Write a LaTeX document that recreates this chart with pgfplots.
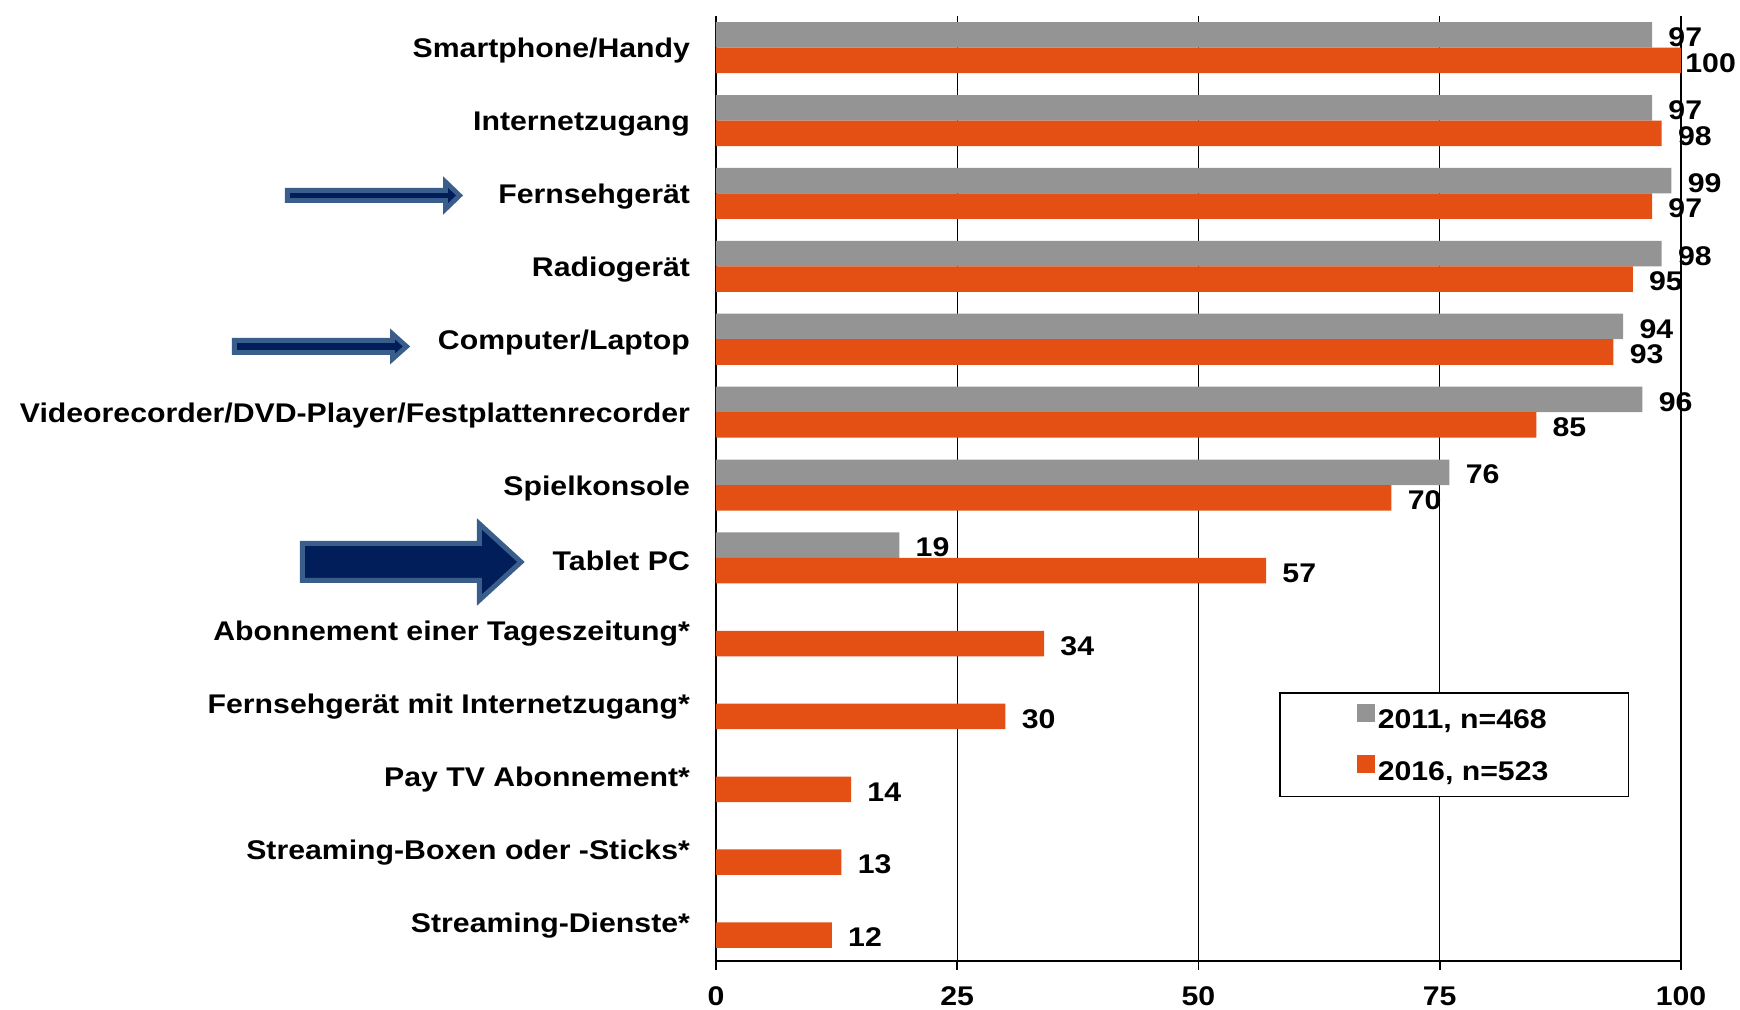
\documentclass[border=0pt]{standalone}
\usepackage{fontspec}
\setmainfont{Liberation Sans}[FakeStretch=1.12]
\usepackage{pgfplots}
\pgfplotsset{compat=1.18}
\usepackage{pgfplotstable}

\definecolor{g11}{RGB}{148,148,148}
\definecolor{o16}{RGB}{228,80,20}
\definecolor{arrB}{RGB}{58,94,140}
\definecolor{arrF}{RGB}{2,30,90}

\newcommand\lbl{\fontsize{13.5}{16}\selectfont\bfseries}

\pgfplotstableread{
y v dx
12 97 8
11 97 8
10 99 8
9 98 8
8 94 8
7 96 8
6 76 8
5 19 8
}\grayt

\pgfplotstableread{
y v dx
12 100 2
11 98 8
10 97 8
9 95 8
8 93 8
7 85 8
6 70 8
5 57 8
4 34 8
3 30 8
2 14 8
1 13 8
0 12 8
}\oranget

\begin{document}
\begin{tikzpicture}
\begin{axis}[
  scale only axis, width=482.5pt, height=472.5pt,
  xmin=0, xmax=100, ymin=-0.53, ymax=12.435,
  xbar, bar width=0.35,
  axis x line=bottom, axis y line=left,
  axis line style={-, black},
  x axis line style={line width=1pt},
  y axis line style={line width=0.8pt},
  xtick={0,25,50,75,100},
  xmajorgrids, grid style={black, line width=0.6pt},
  tick align=outside, major tick length=4.5pt,
  xtick style={black, line width=0.8pt},
  ytick={0,...,12},
  yticklabels={Streaming-Dienste*,Streaming-Boxen oder -Sticks*,Pay TV Abonnement*,Fernsehgerät mit Internetzugang*,Abonnement einer Tageszeitung*,Tablet PC,Spielkonsole,Videorecorder/DVD-Player/Festplattenrecorder,Computer/Laptop,Radiogerät,Fernsehgerät,Internetzugang,Smartphone/Handy},
  ytick style={draw=none},
  ticklabel style={font=\lbl},
  /pgf/number format/assume math mode=true,
  xticklabel style={yshift=-4.8pt},
  yticklabel style={xshift=-5pt, yshift=-1.5pt},
  nodes near coords,
  nodes near coords style={font=\lbl, anchor=west, inner xsep=0pt, xshift=\dx pt, yshift=-1.2pt},
  legend style={at={(0.5834,0.2847)}, anchor=north west, draw=black, line width=0.8pt,
    fill=white, inner xsep=38.5pt, inner ysep=5.6pt, font=\lbl, row sep=10.9pt,
    nodes={inner ysep=1pt, inner xsep=1.5pt}},
  legend cell align=left,
  legend image code/.code={\fill[#1,draw=none] (0pt,-0.6pt) rectangle (9pt,8.4pt);},
]
\addplot[fill=g11, draw=none, bar shift=0.175,
  visualization depends on={\thisrow{dx} \as \dx}]
  table[x=v, y=y] {\grayt};
\addlegendentry{2011, n=468}
\addplot[fill=o16, draw=none, bar shift=-0.175,
  visualization depends on={\thisrow{dx} \as \dx}]
  table[x=v, y=y] {\oranget};
\addlegendentry{2016, n=523}
\end{axis}
% annotation arrows
\begin{scope}[x=1pt, y=1pt, line join=miter, draw=arrB, fill=arrF]
\filldraw[line width=2.4pt] (-214.3,380.2) -- (-135.2,380.2) -- (-135.2,376.0) -- (-128.2,382.75) -- (-135.2,389.5) -- (-135.2,385.3) -- (-214.3,385.3) -- cycle;
\filldraw[line width=2.4pt] (-240.8,304.2) -- (-161.7,304.2) -- (-161.7,301.0) -- (-154.7,307.25) -- (-161.7,313.5) -- (-161.7,310.3) -- (-240.8,310.3) -- cycle;
\filldraw[line width=2.5pt] (-206.75,190.25) -- (-118.25,190.25) -- (-118.25,180.5) -- (-97.5,199.5) -- (-118.25,218.5) -- (-118.25,208.75) -- (-206.75,208.75) -- cycle;
\end{scope}
\pgfresetboundingbox
\path[use as bounding box] (-358pt,-24.5pt) rectangle (512pt,480.5pt);
\end{tikzpicture}
\end{document}
